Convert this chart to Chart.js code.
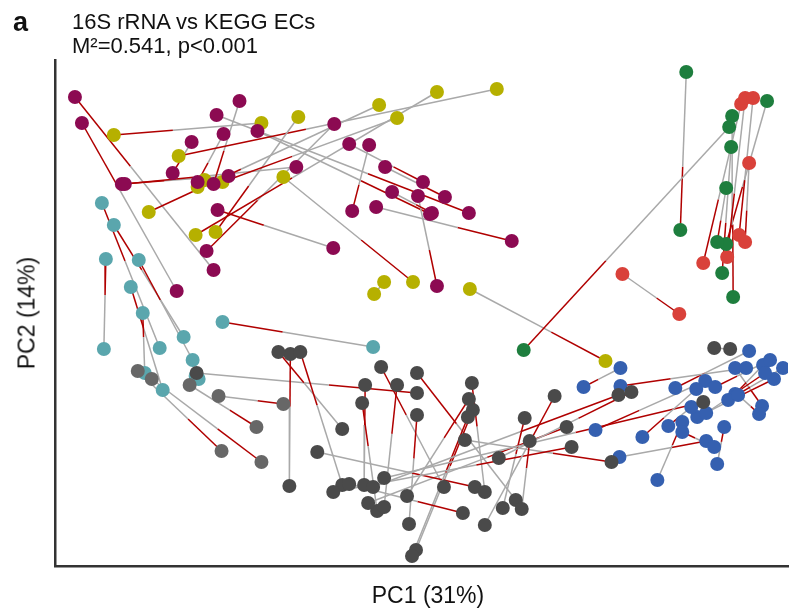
<!DOCTYPE html>
<html>
<head>
<meta charset="utf-8">
<script src="https://cdn.jsdelivr.net/npm/chart.js@4.4.1/dist/chart.umd.min.js"></script>
<style>
  body { margin: 0; background: #fff; font-family: "Liberation Sans", Arial, sans-serif; }
  #wrap { position: relative; width: 795px; height: 610px; }
  .lbl { position: absolute; color: #111; white-space: nowrap; }
  #panel { left: 13px; top: 7px; font-size: 27px; font-weight: bold; }
  #title { left: 72px; top: 10px; font-size: 22px; line-height: 24px; }
  #xTitle { left: 0; width: 856px; top: 582px; font-size: 23px; text-align: center; }
  #yTitle { left: 27px; top: 313px; font-size: 23px; transform: translate(-50%, -50%) rotate(-90deg); }
</style>
</head>
<body>
<div id="wrap">
  <canvas id="procrustes" width="795" height="610"></canvas>
  <div class="lbl" id="panel">a</div>
  <div class="lbl" id="title">16S rRNA vs KEGG ECs<br>M²=0.541, p&lt;0.001</div>
  <div class="lbl" id="xTitle">PC1 (31%)</div>
  <div class="lbl" id="yTitle">PC2 (14%)</div>
</div>
<script>
// each row: [PC1 a, PC2 a, PC1 b, PC2 b]  (a = red end, b = grey end)
const pc1Range = [55, 790];
const pc2Range = [60, 566];

const maroonPairs = [
  [75, 97, 214, 270], [82, 123, 177, 291], [122, 184, 229, 176], [125, 184, 297, 167],
  [198, 182, 224, 134], [214, 184, 240, 101], [173, 173, 192, 142], [207, 251, 335, 124],
  [218, 210, 334, 248], [470, 213, 217, 115], [431, 214, 258, 131], [353, 211, 370, 145],
  [513, 241, 377, 207], [438, 286, 419, 196], [424, 182, 350, 144], [446, 197, 386, 167],
  [433, 213, 393, 192]
];
const olivePairs = [
  [114, 135, 262, 123], [179, 156, 498, 89], [149, 212, 380, 105], [196, 235, 438, 92],
  [216, 232, 299, 117], [414, 282, 284, 177], [375, 294, 385, 282], [607, 361, 471, 289],
  [223, 182, 398, 118], [198, 187, 205, 180]
];
const tealPairs = [
  [102, 203, 160, 348], [114, 225, 184, 337], [139, 260, 193, 360], [106, 259, 104, 349],
  [131, 287, 163, 390], [143, 313, 145, 373], [223, 322, 374, 347], [199, 379, 196, 376]
];
const greenPairs = [
  [682, 230, 688, 72], [525, 350, 731, 127], [728, 244, 769, 101], [735, 297, 734, 116],
  [724, 273, 733, 147], [719, 242, 728, 188]
];
const redPairs = [
  [705, 263, 743, 104], [729, 257, 747, 98], [741, 235, 755, 98], [747, 242, 751, 163],
  [681, 314, 624, 274]
];
const bluePairs = [
  [585, 387, 622, 368], [597, 430, 707, 381], [677, 388, 751, 351], [708, 441, 621, 457],
  [684, 422, 659, 480], [726, 427, 719, 464], [764, 406, 737, 368], [737, 394, 765, 365],
  [730, 400, 785, 368], [761, 414, 740, 395], [717, 387, 772, 360], [776, 379, 699, 417],
  [767, 373, 708, 413], [644, 437, 698, 389], [684, 432, 716, 447], [670, 426, 693, 407],
  [622, 386, 748, 368]
];
const lightGreyPairs = [
  [222, 451, 138, 371], [262, 462, 152, 379], [284, 404, 219, 396], [257, 427, 190, 385]
];
const greyPairs = [
  [418, 393, 197, 373], [291, 354, 290, 486], [279, 352, 343, 429], [301, 352, 343, 485],
  [382, 367, 445, 487], [418, 373, 517, 500], [366, 385, 365, 485], [363, 403, 378, 511],
  [398, 385, 385, 507], [418, 415, 410, 524], [474, 410, 417, 550], [568, 427, 369, 503],
  [476, 487, 318, 452], [473, 383, 486, 492], [470, 399, 408, 496], [469, 417, 413, 556],
  [613, 462, 466, 440], [464, 513, 350, 484], [526, 418, 504, 508], [531, 441, 523, 509],
  [716, 348, 732, 349], [705, 402, 385, 478], [620, 395, 374, 487], [633, 392, 500, 458],
  [573, 447, 334, 492], [556, 396, 486, 525]
];

const groups = [
  { pairs: lightGreyPairs, color: "#676767" },
  { pairs: greyPairs, color: "#4a4a4a" },
  { pairs: tealPairs, color: "#5aa6ad" },
  { pairs: maroonPairs, color: "#8c0a52" },
  { pairs: olivePairs, color: "#b6b000" },
  { pairs: bluePairs, color: "#3560b0" },
  { pairs: greenPairs, color: "#1e7e3e" },
  { pairs: redPairs, color: "#d9413a" }
];

const RED_SHARE = 0.4;
const RED_LINE = "#b00000";
const GREY_LINE = "#a9a9a9";

// connector: red part from a, grey part to b, null to break between pairs
const linkData = [];
groups.forEach(g => {
  g.pairs.forEach(p => {
    const cut = { x: p[0] + (p[2] - p[0]) * RED_SHARE, y: p[1] + (p[3] - p[1]) * RED_SHARE };
    linkData.push({ x: p[0], y: p[1] }, cut, { x: p[2], y: p[3] }, { x: null, y: null });
  });
});

const pointSets = groups.map(g => ({
  type: "scatter",
  data: g.pairs.flatMap(p => [{ x: p[0], y: p[1] }, { x: p[2], y: p[3] }]),
  backgroundColor: g.color,
  borderWidth: 0,
  pointRadius: 7,
  pointHoverRadius: 7,
  order: 1
}));

const ctx = document.getElementById("procrustes").getContext("2d");
new Chart(ctx, {
  type: "scatter",
  data: {
    datasets: [
      {
        data: linkData,
        showLine: true,
        spanGaps: false,
        pointRadius: 0,
        borderWidth: 1.5,
        borderColor: GREY_LINE,
        segment: {
          borderColor: c => (c.p0DataIndex % 4 === 0 ? RED_LINE : GREY_LINE)
        },
        order: 2
      },
      ...pointSets
    ]
  },
  options: {
    responsive: false,
    animation: false,
    layout: { padding: { left: 55, right: 5, top: 60, bottom: 44 } },
    plugins: { legend: { display: false }, tooltip: { enabled: false } },
    scales: {
      x: {
        min: pc1Range[0], max: pc1Range[1],
        ticks: { display: false },
        grid: { display: false, drawTicks: false },
        border: { color: "#333", width: 2.5 }
      },
      y: {
        reverse: true,
        min: pc2Range[0], max: pc2Range[1],
        ticks: { display: false },
        grid: { display: false, drawTicks: false },
        border: { color: "#333", width: 2.5 }
      }
    }
  }
});
</script>
</body>
</html>
